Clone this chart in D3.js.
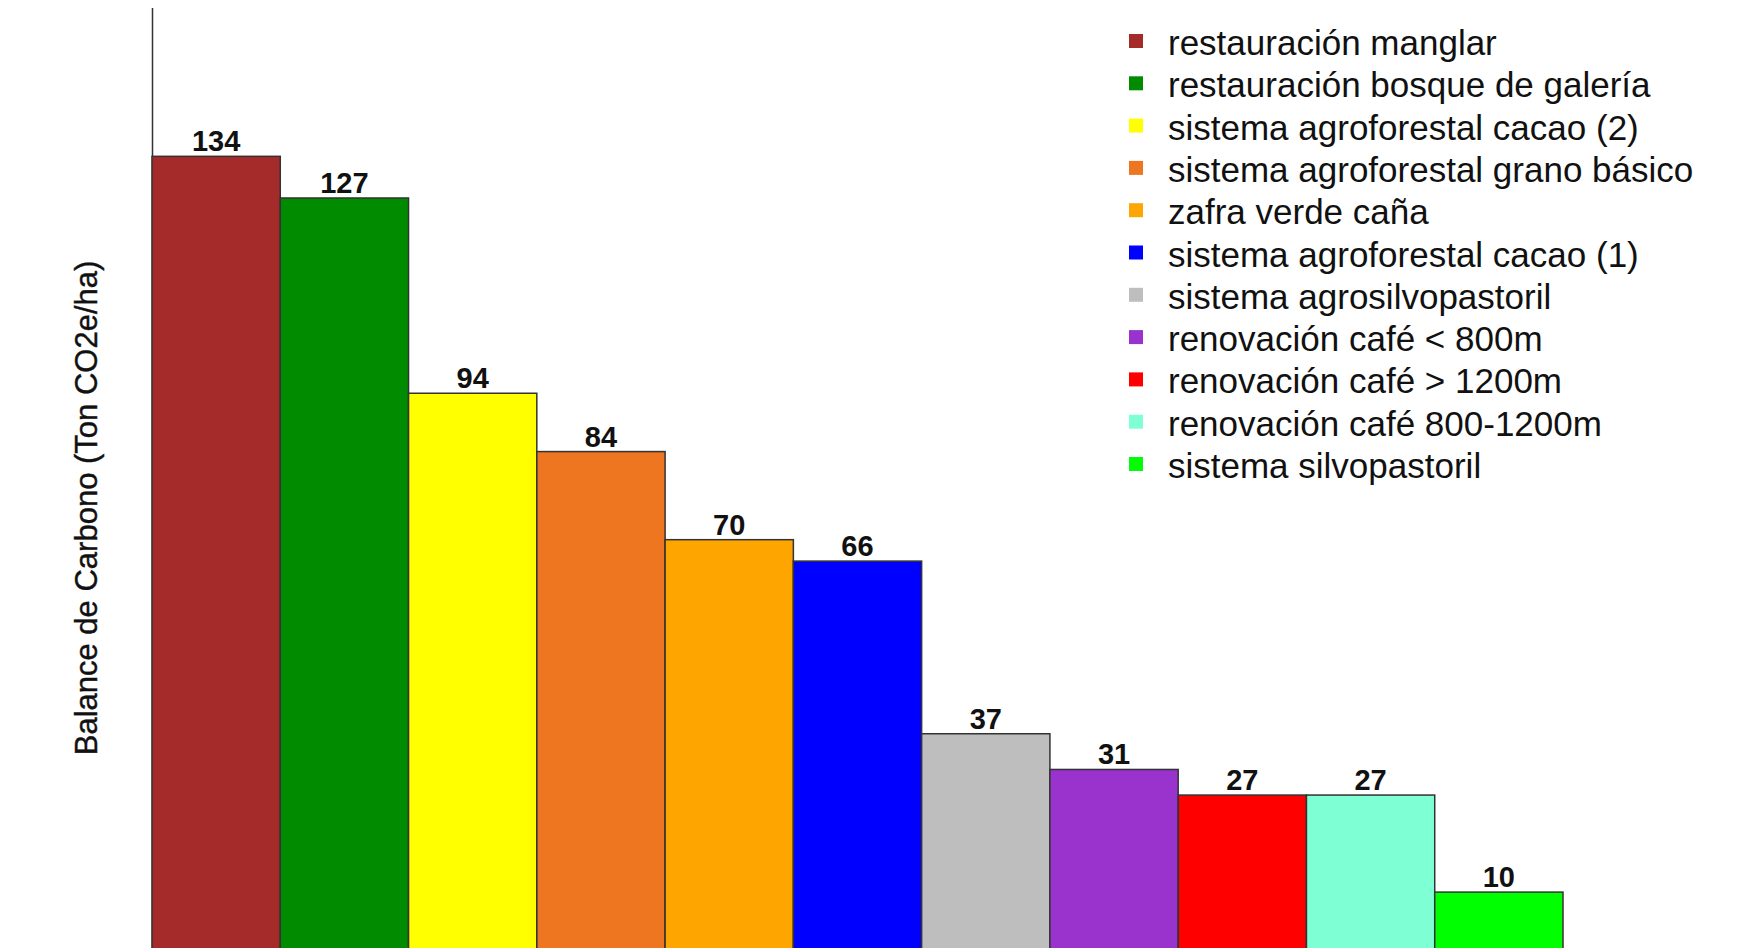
<!DOCTYPE html>
<html>
<head>
<meta charset="utf-8">
<script src="https://cdn.jsdelivr.net/npm/d3@7"></script>
<style>
  html, body { margin: 0; padding: 0; background: #fff; }
  svg { display: block; }
</style>
</head>
<body>
<svg id="chart" width="1758" height="948"></svg>
<script>
const categories = [
  "restauración manglar",
  "restauración bosque de galería",
  "sistema agroforestal cacao (2)",
  "sistema agroforestal grano básico",
  "zafra verde caña",
  "sistema agroforestal cacao (1)",
  "sistema agrosilvopastoril",
  "renovación café < 800m",
  "renovación café > 1200m",
  "renovación café 800-1200m",
  "sistema silvopastoril"
];
const values = [134, 127, 94.2, 84.4, 69.6, 66, 37, 31, 26.7, 26.7, 10.4];
const colors = ["#A52A2A", "#008B00", "#FFFF00", "#EE7621", "#FFA500", "#0000FF",
                "#BEBEBE", "#9A32CD", "#FF0000", "#7FFFD4", "#00FF00"];
const yTitle = "Balance de Carbono (Ton CO2e/ha)";
const yMax = 159;

const font = "'Liberation Sans', Arial, sans-serif";
const svg = d3.select("#chart");

const x = d3.scaleBand().domain(categories).range([152, 1563]).padding(0);
const y = d3.scaleLinear().domain([0, yMax]).range([954, 7.5]);
const color = d3.scaleOrdinal().domain(categories).range(colors);

// y axis line (no ticks)
const yAxis = d3.axisLeft(y).tickValues([]).tickSizeOuter(0);
svg.append("g").attr("transform", "translate(152,0)").call(yAxis)
  .select(".domain").attr("stroke", "#333").attr("stroke-width", 1.5);

// bars
svg.append("g").selectAll("rect").data(categories).join("rect")
  .attr("x", d => x(d))
  .attr("y", (d, i) => y(values[i]))
  .attr("width", x.bandwidth())
  .attr("height", (d, i) => y(0) - y(values[i]))
  .attr("fill", d => color(d))
  .attr("stroke", "#333")
  .attr("stroke-width", 1.5);

// value labels
svg.append("g").selectAll("text").data(categories).join("text")
  .attr("x", d => x(d) + x.bandwidth() / 2)
  .attr("y", (d, i) => y(values[i]) - 5)
  .attr("text-anchor", "middle")
  .attr("font-family", font)
  .attr("font-weight", "bold")
  .attr("font-size", 29)
  .attr("fill", "#111")
  .text((d, i) => Math.round(values[i]));

// y title
svg.append("text")
  .attr("transform", "translate(97,508) rotate(-90)")
  .attr("text-anchor", "middle")
  .attr("font-family", font)
  .attr("font-size", 31)
  .attr("fill", "#111")
  .attr("stroke", "#111")
  .attr("stroke-width", 0.4)
  .text(yTitle);

// legend
const legendY = d3.scalePoint().domain(categories).range([41, 464]);
const lg = svg.append("g");
const rows = lg.selectAll("g").data(categories).join("g")
  .attr("transform", d => `translate(0,${legendY(d)})`);
rows.append("rect")
  .attr("x", 1129).attr("y", -7).attr("width", 14).attr("height", 14)
  .attr("fill", d => color(d));
rows.append("text")
  .attr("x", 1168).attr("y", 14)
  .attr("font-family", font)
  .attr("font-size", 35)
  .attr("fill", "#111")
  .text(d => d);
</script>
</body>
</html>
